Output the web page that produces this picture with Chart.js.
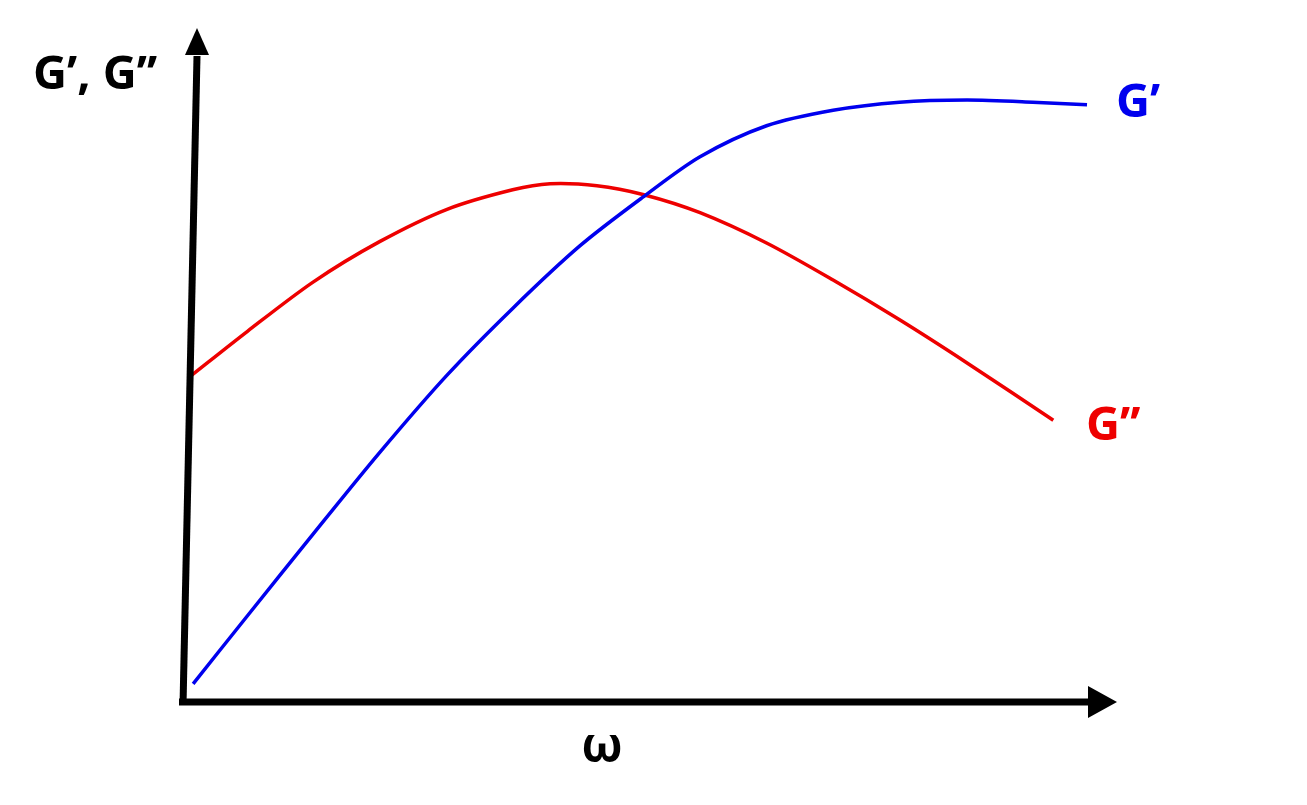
<!DOCTYPE html>
<html>
<head>
<meta charset="utf-8">
<script src="https://cdn.jsdelivr.net/npm/chart.js@4.4.1/dist/chart.umd.min.js"></script>
<style>
  html, body { margin: 0; padding: 0; background: #fff; }
  #wrap { width: 1307px; height: 805px; }
</style>
</head>
<body>
<div id="wrap"><canvas id="modulus-chart"></canvas></div>
<script>
// frequency (arbitrary units, 0..100)
const omegaStorage = [1.4, 7.2, 14.2, 21.3, 28.5, 35.5, 42.7, 49.4, 55.5, 62.6, 69.7, 76.8, 84.0, 91.0, 96.8];
const storageModulus = [2.7, 12.8, 24.9, 37.0, 48.5, 58.4, 67.7, 74.9, 80.9, 85.5, 87.8, 89.0, 89.3, 89.0, 88.6];

const omegaLoss = [0.9, 7.2, 14.2, 21.3, 28.5, 35.5, 39.5, 44.5, 49.4, 55.5, 62.6, 69.7, 76.8, 84.0, 93.2];
const lossModulus = [48.1, 55.0, 62.3, 68.3, 73.1, 76.0, 76.9, 76.6, 75.3, 72.6, 68.1, 62.6, 56.7, 50.3, 41.8];

const toPoints = (xs, ys) => xs.map((x, i) => ({ x: x, y: ys[i] }));

const FONT = '"Noto Sans", "Open Sans", sans-serif';

// hand-drawn looking axes with arrow heads + labels
const sketchAxes = {
  id: "sketchAxes",
  afterDraw(chart) {
    const ctx = chart.ctx;
    const a = chart.chartArea;
    ctx.save();
    ctx.strokeStyle = "#000";
    ctx.fillStyle = "#000";
    ctx.lineWidth = 7;
    ctx.lineCap = "butt";

    // y axis (slightly tilted)
    ctx.beginPath();
    ctx.moveTo(a.left + 3, a.bottom + 3);
    ctx.lineTo(a.left + 17, a.top + 28);
    ctx.stroke();
    ctx.beginPath();
    ctx.moveTo(a.left + 17, a.top);
    ctx.lineTo(a.left + 29, a.top + 27);
    ctx.lineTo(a.left + 5, a.top + 27);
    ctx.closePath();
    ctx.fill();

    // x axis
    ctx.beginPath();
    ctx.moveTo(a.left - 1, a.bottom);
    ctx.lineTo(a.right - 28, a.bottom);
    ctx.stroke();
    ctx.beginPath();
    ctx.moveTo(a.right, a.bottom);
    ctx.lineTo(a.right - 29, a.bottom - 16);
    ctx.lineTo(a.right - 29, a.bottom + 16);
    ctx.closePath();
    ctx.fill();

    ctx.font = "bold 47px " + FONT;
    ctx.textBaseline = "alphabetic";
    ctx.textAlign = "left";
    ctx.fillStyle = "#000";
    ctx.fillText("G\u2019, G\u2019\u2019", 33, 89);

    ctx.font = "bold 48px " + FONT;
    ctx.textAlign = "center";
    ctx.fillText("\u03c9", 602, 762);

    ctx.textAlign = "left";
    ctx.font = "bold 47px " + FONT;
    ctx.fillStyle = "#0000ee";
    ctx.fillText("G\u2019", 1116, 117);
    ctx.fillStyle = "#ee0000";
    ctx.fillText("G\u2019\u2019", 1086, 440);
    ctx.restore();
  },
};

new Chart(document.getElementById("modulus-chart"), {
  type: "scatter",
  data: {
    datasets: [
      {
        label: "G'",
        data: toPoints(omegaStorage, storageModulus),
        showLine: true,
        borderColor: "#0000ee",
        borderWidth: 3.5,
        pointRadius: 0,
        tension: 0.3,
      },
      {
        label: "G''",
        data: toPoints(omegaLoss, lossModulus),
        showLine: true,
        borderColor: "#ee0000",
        borderWidth: 3.5,
        pointRadius: 0,
        tension: 0.3,
      },
    ],
  },
  options: {
    responsive: true,
    maintainAspectRatio: false,
    animation: false,
    layout: { padding: { left: 180, right: 190, top: 28, bottom: 103 } },
    scales: {
      x: { type: "linear", min: 0, max: 100, display: false },
      y: { type: "linear", min: 0, max: 100, display: false },
    },
    plugins: {
      legend: { display: false },
      tooltip: { enabled: false },
    },
  },
  plugins: [sketchAxes],
});
</script>
</body>
</html>
